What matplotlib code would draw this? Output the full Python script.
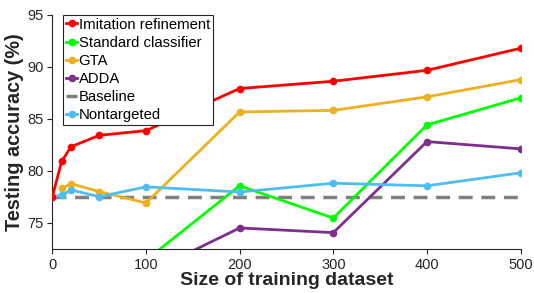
import numpy as np
import matplotlib as mpl
mpl.use('agg')
import matplotlib.pyplot as plt

plt.rcParams['font.family'] = ['Liberation Sans', 'DejaVu Sans']

# values
x_imit = [0, 10, 20, 50, 100, 200, 300, 400, 500]
y_imit = [77.5, 80.9, 82.3, 83.4, 83.85, 87.9, 88.6, 89.65, 91.77]

x_std = [100, 200, 300, 400, 500]
y_std = [71.4, 78.55, 75.45, 84.4, 87.0]

x_gta = [10, 20, 50, 100, 200, 300, 400, 500]
y_gta = [78.3, 78.75, 78.0, 76.9, 85.65, 85.8, 87.1, 88.75]

x_adda = [100, 200, 300, 400, 500]
y_adda = [70.1, 74.5, 74.05, 82.8, 82.1]

x_base = [0, 500]
y_base = [77.5, 77.5]

x_nont = [0, 10, 20, 50, 100, 200, 300, 400, 500]
y_nont = [77.5, 77.65, 78.15, 77.5, 78.45, 77.95, 78.8, 78.55, 79.8]

fig = plt.figure(figsize=(5.34, 2.93), dpi=100)
ax = fig.add_axes([0.098, 0.151, 0.877, 0.799])

lw = 2.0
ms = 4.5
ax.plot(x_imit, y_imit, '-o', color='#FF0000', lw=lw, ms=ms, label='Imitation refinement', zorder=5)
ax.plot(x_std, y_std, '-o', color='#00FF00', lw=lw, ms=ms, label='Standard classifier', zorder=4)
ax.plot(x_gta, y_gta, '-o', color='#EDB120', lw=lw, ms=ms, label='GTA', zorder=4)
ax.plot(x_adda, y_adda, '-o', color='#7E2F8E', lw=lw, ms=ms, label='ADDA', zorder=4)
ax.plot(x_base, y_base, '--', color='#808080', lw=2.5, dashes=(4, 2.5), label='Baseline', zorder=3)
ax.plot(x_nont, y_nont, '-o', color='#4DBEEE', lw=lw, ms=ms, label='Nontargeted', zorder=4)

ax.set_xlim(0, 500)
ax.set_ylim(72.5, 95)
ax.set_xticks([0, 100, 200, 300, 400, 500])
ax.set_yticks([75, 80, 85, 90, 95])
ax.tick_params(labelsize=10.5, colors='#262626', length=3.5, width=0.8, pad=3)
for s in ['top', 'right']:
    ax.spines[s].set_visible(False)
for s in ['left', 'bottom']:
    ax.spines[s].set_color('#262626')

ax.set_xlabel('Size of training dataset', fontsize=14, fontweight='bold', color='#262626', labelpad=0)
ax.set_ylabel('Testing accuracy (%)', fontsize=14.3, fontweight='bold', color='#262626', labelpad=2)

leg = ax.legend(loc='upper left', bbox_to_anchor=(0.023, 1.0), fontsize=10.7,
                handlelength=0.75, handletextpad=0.1, borderpad=0.2, labelspacing=0.28,
                borderaxespad=0, fancybox=False, framealpha=1, edgecolor='#262626')
leg.get_frame().set_linewidth(0.8)

plt.savefig('out.png', dpi=100)
